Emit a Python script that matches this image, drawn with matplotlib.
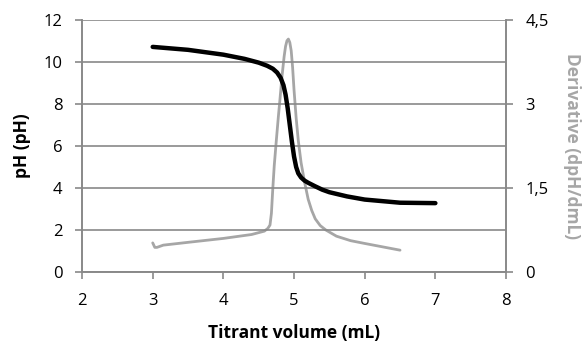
import matplotlib.pyplot as plt

# Titration curve (pH)
vol_ph = [3.0, 3.5, 4.0, 4.3, 4.5, 4.62, 4.7, 4.76, 4.81, 4.85, 4.88, 4.91, 4.94, 4.97, 5.0, 5.03, 5.06, 5.1, 5.15, 5.2, 5.3, 5.4, 5.5, 5.75, 6.0, 6.5, 7.0]
ph = [10.72, 10.58, 10.35, 10.15, 9.97, 9.82, 9.68, 9.5, 9.25, 8.9, 8.45, 7.8, 7.0, 6.2, 5.5, 5.0, 4.7, 4.5, 4.35, 4.25, 4.08, 3.92, 3.8, 3.6, 3.45, 3.3, 3.28]

# First derivative (dpH/dmL)
vol_der = [3.0, 3.03, 3.06, 3.15, 3.5, 4.0, 4.4, 4.58, 4.63, 4.66, 4.68, 4.7, 4.72, 4.75, 4.78, 4.8, 4.83, 4.86, 4.88, 4.9, 4.92, 4.94, 4.96, 4.98, 5.0, 5.03, 5.06, 5.1, 5.15, 5.2, 5.25, 5.3, 5.37, 5.45, 5.6, 5.8, 6.0, 6.5]
der = [0.52, 0.44, 0.44, 0.48, 0.53, 0.6, 0.67, 0.73, 0.78, 0.84, 1.05, 1.5, 1.9, 2.36, 2.8, 3.07, 3.5, 3.85, 4.03, 4.13, 4.16, 4.1, 3.95, 3.65, 3.25, 2.75, 2.35, 1.95, 1.6, 1.3, 1.1, 0.95, 0.83, 0.75, 0.64, 0.56, 0.51, 0.39]

x_ticks = [2, 3, 4, 5, 6, 7, 8]
left_ticks = [0, 2, 4, 6, 8, 10, 12]
right_ticks = [0, 1.5, 3, 4.5]
right_labels = ['0', '1,5', '3', '4,5']

plt.rcParams['font.family'] = ['Open Sans', 'DejaVu Sans']
axis_gray = '#898989'
der_gray = '#A6A6A6'

fig = plt.figure(figsize=(5.83, 3.41), dpi=100)
ax = fig.add_axes([0.1407, 0.2023, 0.868 - 0.1407, 0.9413 - 0.2023])
ax2 = ax.twinx()

ax.set_xlim(2, 8)
ax.set_ylim(0, 12)
ax.set_xticks(x_ticks)
ax.set_yticks(left_ticks)
ax.grid(axis='y', color=axis_gray, linewidth=1.2)
ax.set_axisbelow(True)

ax2.set_ylim(0, 4.5)
ax2.set_yticks(right_ticks)
ax2.set_yticklabels(right_labels)

for a in (ax, ax2):
    a.spines['top'].set_visible(False)
    for s in ('left', 'right', 'bottom'):
        a.spines[s].set_color(axis_gray)
        a.spines[s].set_linewidth(1.2)
    a.tick_params(colors=axis_gray, labelcolor='black', labelsize=12, width=1.2, length=5, pad=9)

ax.tick_params(axis='x', pad=10)

ax2.plot(vol_der, der, color=der_gray, linewidth=2.0, solid_joinstyle='round', solid_capstyle='round')
ax.plot(vol_ph, ph, color='black', linewidth=3.2, solid_joinstyle='round', solid_capstyle='round', zorder=5)
ax.set_zorder(ax2.get_zorder() + 1)
ax.patch.set_visible(False)

ax.set_xlabel('Titrant volume (mL)', fontsize=12.5, fontweight='bold', labelpad=11)
ax.set_ylabel('pH (pH)', fontsize=12.5, fontweight='bold', labelpad=9)
ax2.set_ylabel('Derivative (dpH/dmL)', fontsize=12.5, fontweight='bold', color=der_gray, rotation=270, labelpad=23)

fig.savefig('out.png', dpi=100)
